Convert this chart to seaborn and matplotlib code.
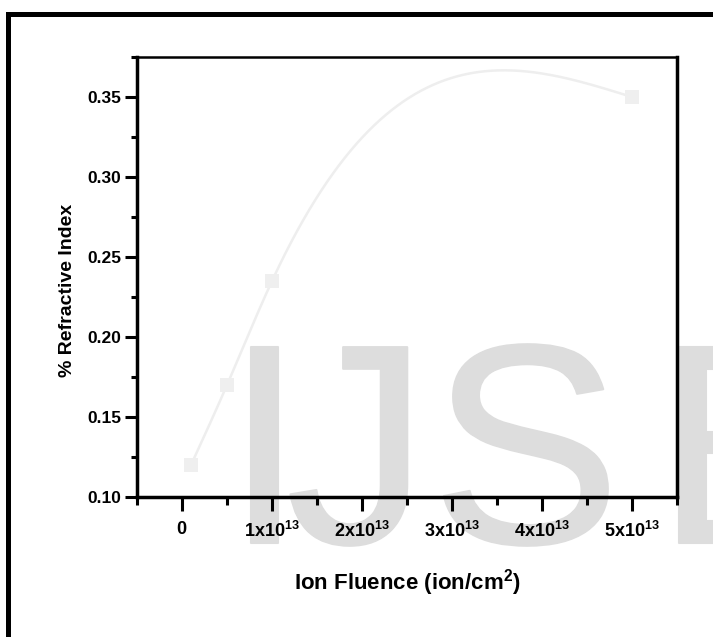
import numpy as np
import pandas as pd
import matplotlib
matplotlib.use("Agg")
import matplotlib.pyplot as plt
import matplotlib.patheffects as pe
from matplotlib.lines import Line2D
from matplotlib.ticker import MultipleLocator
import seaborn as sns

# ---- data ----
fluence = [0.1e13, 0.5e13, 1.0e13, 5.0e13]
refractive = [0.12, 0.17, 0.235, 0.35]
xtick_values = [0, 1e13, 2e13, 3e13, 4e13, 5e13]
xtick_labels = ["$0$", "$1x10^{13}$", "$2x10^{13}$", "$3x10^{13}$", "$4x10^{13}$", "$5x10^{13}$"]
ytick_values = [0.10, 0.15, 0.20, 0.25, 0.30, 0.35]
ytick_labels = ["0.10", "0.15", "0.20", "0.25", "0.30", "0.35"]
watermark_letters = ["I", "J", "S", "E"]

sns.set_theme(style="white")
plt.rcParams["font.family"] = ["Liberation Sans", "DejaVu Sans"]
plt.rcParams["mathtext.fontset"] = "custom"
plt.rcParams["mathtext.rm"] = "Liberation Sans:bold"
plt.rcParams["mathtext.it"] = "Liberation Sans:bold"
plt.rcParams["mathtext.bf"] = "Liberation Sans:bold"
plt.rcParams["mathtext.default"] = "bf"


def natural_spline(xk, yk, xs):
    xk = np.asarray(xk, float); yk = np.asarray(yk, float)
    n = len(xk)
    h = np.diff(xk)
    A = np.zeros((n, n)); b = np.zeros(n)
    A[0, 0] = 1; A[-1, -1] = 1
    for i in range(1, n - 1):
        A[i, i - 1] = h[i - 1]
        A[i, i] = 2 * (h[i - 1] + h[i])
        A[i, i + 1] = h[i]
        b[i] = 6 * ((yk[i + 1] - yk[i]) / h[i] - (yk[i] - yk[i - 1]) / h[i - 1])
    M = np.linalg.solve(A, b)
    out = np.empty_like(xs)
    for j, x in enumerate(xs):
        i = min(max(np.searchsorted(xk, x) - 1, 0), n - 2)
        hi = h[i]
        a = xk[i + 1] - x; c = x - xk[i]
        out[j] = (M[i] * a**3 + M[i + 1] * c**3) / (6 * hi) \
            + (yk[i] / hi - M[i] * hi / 6) * a + (yk[i + 1] / hi - M[i + 1] * hi / 6) * c
    return out


W, H = 713, 637
fig = plt.figure(figsize=(W / 100, H / 100), dpi=100)
fig.patch.set_facecolor("white")

# watermark
wm_x = [225, 286, 431, 656]
for letter, px in zip(watermark_letters, wm_x):
    fig.text(px / W, 1 - 543 / H, letter, fontsize=205, color="#dddddd",
             family="Liberation Sans", ha="left", va="baseline", zorder=0,
             path_effects=[pe.withStroke(linewidth=1.5, foreground="#dddddd")])

ax = fig.add_axes([137 / W, 1 - 497 / H, 540 / W, 440 / H])
ax.set_facecolor("none")
ax.set_zorder(2)

xs_scaled = np.linspace(0.1, 5.0, 300)
ys = natural_spline(np.array(fluence) / 1e13, refractive, xs_scaled)
curve = pd.DataFrame({"x": xs_scaled * 1e13, "y": ys})
pts = pd.DataFrame({"x": fluence, "y": refractive})

sns.lineplot(data=curve, x="x", y="y", ax=ax, color="#eeeeee", linewidth=1.8, zorder=3)
sns.scatterplot(data=pts, x="x", y="y", ax=ax, marker="s", s=90, color="#efefef",
                edgecolor="none", zorder=4)

ax.set_xlim(-0.5e13, 5.5e13)
ax.set_ylim(0.10, 0.375)
ax.set_xticks(xtick_values)
ax.set_xticklabels(xtick_labels, fontsize=13)
ax.set_yticks(ytick_values)
ax.set_yticklabels(ytick_labels, fontsize=12.5, fontweight="bold")
ax.xaxis.set_minor_locator(MultipleLocator(0.5e13))
ax.yaxis.set_minor_locator(MultipleLocator(0.025))

ax.tick_params(axis="x", which="major", direction="out", length=10, width=2.2,
               color="black", pad=7, bottom=True, top=False)
ax.tick_params(axis="x", which="minor", direction="out", length=6, width=2.2,
               color="black", bottom=True, top=False)
ax.tick_params(axis="y", which="major", direction="out", length=8.5, width=2.2,
               color="black", pad=3, left=True, right=False)
ax.tick_params(axis="y", which="minor", direction="out", length=4.5, width=2.2,
               color="black", left=True, right=False)
for lbl in ax.get_xticklabels() + ax.get_yticklabels():
    lbl.set_color("black")

for side in ["left", "bottom", "right"]:
    ax.spines[side].set_visible(True)
    ax.spines[side].set_color("black")
    ax.spines[side].set_linewidth(2.5)
ax.spines["top"].set_visible(True)
ax.spines["top"].set_color("black")
ax.spines["top"].set_linewidth(1.8)

ax.set_xlabel("Ion Fluence (ion/cm$^{2}$)", fontsize=16, fontweight="bold", color="black")
ax.set_ylabel("% Refractive Index", fontsize=14, fontweight="bold", color="black")
ax.xaxis.set_label_coords(0.5, -(583 - 497) / 440)
ax.yaxis.set_label_coords(-(137 - 68) / 540, (497 - 290) / 440)
ax.xaxis.label.set_va("center")
ax.yaxis.label.set_va("center")

# outer frame (cut at right and bottom)
fig.add_artist(Line2D([8 / W, 8 / W], [-0.05, 1 - 14 / H], color="black", linewidth=3.6,
                      transform=fig.transFigure, solid_capstyle="projecting"))
fig.add_artist(Line2D([8 / W, 1.05], [1 - 14 / H, 1 - 14 / H], color="black", linewidth=3.6,
                      transform=fig.transFigure, solid_capstyle="projecting"))

fig.savefig("out.png", dpi=100, facecolor="white")
